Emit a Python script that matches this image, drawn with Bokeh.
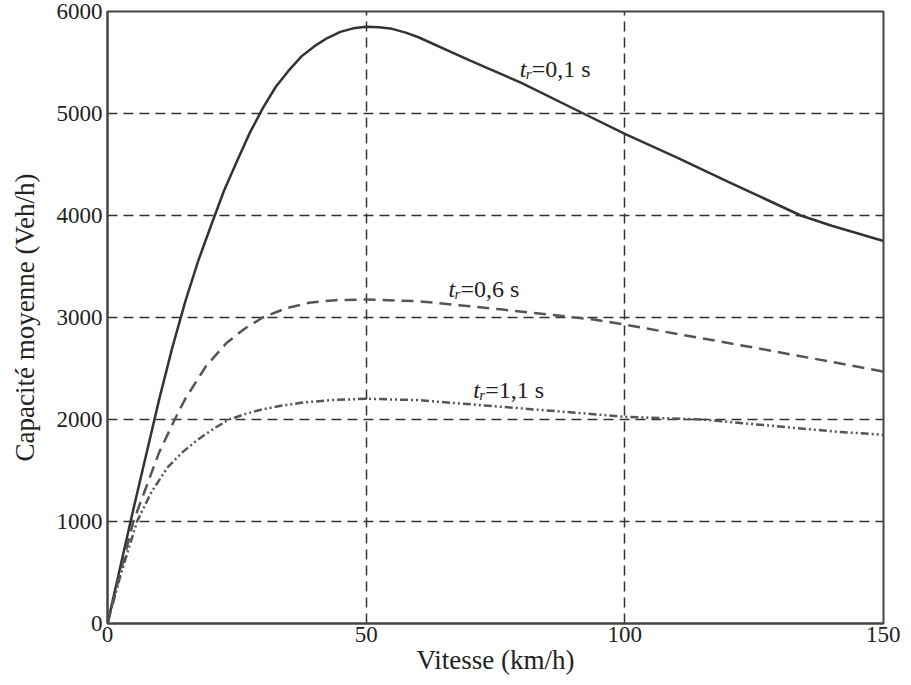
from bokeh.plotting import figure
from bokeh.embed import file_html
from bokeh.resources import INLINE
from bokeh.models import FixedTicker, Range1d
from bokeh.core.properties import value

# Data
speed_01 = [0, 5, 10, 12.5, 15, 17.5, 20, 22.5, 25, 27.5, 30, 32.5, 35, 37.5, 40, 42.5, 45, 47.5, 50,
            52.5, 55, 57.5, 60, 70, 80, 92, 100, 110, 120, 134, 140, 150]
cap_01 = [0, 1120, 2200, 2700, 3150, 3550, 3900, 4240, 4530, 4810, 5050, 5260, 5420, 5560, 5660, 5740, 5800, 5835, 5850,
          5845, 5830, 5795, 5750, 5520, 5300, 5000, 4800, 4570, 4330, 4000, 3900, 3750]

speed_06 = [0, 5, 10, 13, 15, 19, 23, 26.5, 30, 34.5, 39, 44, 50, 60, 76, 94, 100, 125, 150]
cap_06 = [0, 1000, 1680, 2000, 2200, 2520, 2750, 2890, 3000, 3090, 3145, 3170, 3177, 3160, 3080, 2980, 2930, 2705, 2470]

speed_11 = [0, 2.5, 5.7, 8.5, 11.6, 14.5, 17.4, 20.5, 23.5, 27, 30, 33, 37.4, 43, 50, 60, 76, 95.5, 100, 115, 141, 150]
cap_11 = [0, 470, 1000, 1290, 1530, 1680, 1800, 1910, 2000, 2060, 2100, 2130, 2164, 2190, 2203, 2190, 2125, 2046, 2026, 2000, 1880, 1850]

x_ticks = [0, 50, 100, 150]
y_ticks = [0, 1000, 2000, 3000, 4000, 5000, 6000]

labels = [("0,1 s", 79.7, 5440), ("0,6 s", 65.9, 3275), ("1,1 s", 70.7, 2292)]

FONT = "Liberation Serif"

p = figure(width=900, height=682, output_backend="svg", toolbar_location=None,
           x_range=Range1d(0, 150), y_range=Range1d(0, 6000),
           min_border_left=107, min_border_top=11, min_border_right=17, min_border_bottom=59)

p.outline_line_color = "#444444"
p.outline_line_width = 2
p.background_fill_color = "white"
p.border_fill_color = "white"

for ax in (p.xaxis[0], p.yaxis[0]):
    ax.major_tick_in = 0
    ax.major_tick_out = 0
    ax.minor_tick_in = 0
    ax.minor_tick_out = 0
    ax.axis_line_color = "#444444"
    ax.axis_line_width = 2
    ax.major_label_text_font = FONT
    ax.major_label_text_font_size = "23px"
    ax.major_label_text_color = "#222222"
    ax.axis_label_text_font = FONT
    ax.axis_label_text_font_size = "27px"
    ax.axis_label_text_font_style = "normal"
    ax.axis_label_text_color = "#222222"

p.xaxis.ticker = FixedTicker(ticks=x_ticks)
p.yaxis.ticker = FixedTicker(ticks=y_ticks)
p.xaxis.axis_label = "Vitesse (km/h)"
p.yaxis.axis_label = "Capacité moyenne (Veh/h)"
p.xaxis.major_label_standoff = 3
p.xaxis.axis_label_standoff = 0
p.yaxis.major_label_standoff = 5
p.yaxis.axis_label_standoff = 14

for g in (p.xgrid[0], p.ygrid[0]):
    g.grid_line_color = "#333333"
    g.grid_line_width = 1.5
    g.grid_line_dash = "10 6"
    g.grid_line_alpha = 1.0

p.line(speed_01, cap_01, line_color="#333333", line_width=2.5)
p.line(speed_06, cap_06, line_color="#555555", line_width=2.5, line_dash="12 7")
p.line(speed_11, cap_11, line_color="#555555", line_width=2.5, line_dash="8 3 2 3 2 3")

for txt, lx, ly in labels:
    p.text([lx], [ly], text=["t"], text_font=value(FONT), text_font_style="italic",
           text_font_size="24px", text_color="#222222", text_baseline="alphabetic", text_align="left")
    p.text([lx], [ly], text=["r"], text_font=value(FONT), text_font_style="italic",
           text_font_size="15px", text_color="#222222", text_baseline="alphabetic", text_align="left",
           x_offset=6, y_offset=5)
    p.text([lx], [ly], text=["=" + txt], text_font=value(FONT),
           text_font_size="24px", text_color="#222222", text_baseline="alphabetic", text_align="left",
           x_offset=12)

open("out.html", "w").write(file_html(p, INLINE))
